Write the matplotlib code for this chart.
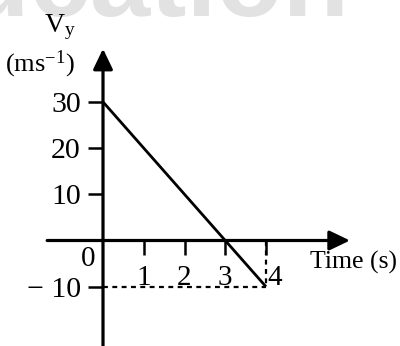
import matplotlib
matplotlib.use("Agg")
import matplotlib.pyplot as plt

plt.rcParams.update({
    "font.family": ["Liberation Serif", "DejaVu Serif"],
    "mathtext.fontset": "custom",
    "mathtext.rm": "Liberation Serif",
    "mathtext.it": "Liberation Serif:italic",
})

# velocity-time data (vertical component)
time_s = [0, 4]
vy = [30, -10]
y_ticks = [-10, 10, 20, 30]
y_tick_labels = ["\u2212 10", "10", "20", "30"]
x_ticks = [1, 2, 3, 4]
x_tick_labels = ["1", "2", "3", "4"]

W, H = 400, 346
fig = plt.figure(figsize=(W / 100, H / 100), dpi=100)
ax = fig.add_axes([0, 0, 1, 1])
ax.patch.set_visible(False)

# pixel layout: origin at (103, 240.5), 40.75 px per second, 4.62 px per m/s
ox, oy, sx, sy = 103, 240.5, 40.75, 4.62
ax.set_xlim(-ox / sx, (W - ox) / sx)
ax.set_ylim((oy - H) / sy, oy / sy)

for side in ("top", "right"):
    ax.spines[side].set_visible(False)
ax.spines["left"].set_position(("data", 0))
ax.spines["bottom"].set_position(("data", 0))
ax.spines["left"].set_visible(False)
ax.spines["bottom"].set_visible(False)

# axes with arrow heads
arrow = dict(arrowstyle="-|>,head_length=1.25,head_width=0.6", mutation_scale=10,
             lw=2.3, color="black", shrinkA=0, shrinkB=0)
ax.annotate("", xy=(6.06, 0), xytext=(-1.37, 0), arrowprops=arrow)
ax.annotate("", xy=(0, 41.5), xytext=(0, (oy - H) / sy), arrowprops=arrow)

ax.set_yticks(y_ticks)
ax.set_yticklabels(y_tick_labels)
ax.tick_params(axis="y", direction="out", length=10.5, width=1.8, pad=5.5,
               labelsize=21.5, color="black")
ax.set_xticks(x_ticks)
ax.set_xticklabels([])
ax.tick_params(axis="x", direction="out", length=10, width=1.8, color="black")

# dashed guides to (4, -10)
ax.plot([0, time_s[1]], [vy[1], vy[1]], ls=(0, (2.2, 2.0)), lw=1.6, color="black")
ax.plot([time_s[1], time_s[1]], [0, vy[1]], ls=(0, (2.2, 2.0)), lw=1.6, color="black")

# the velocity line
ax.plot(time_s, vy, color="black", lw=2.0, solid_capstyle="butt")

# x tick labels sit just above the dashed line
for t, lab in zip(x_ticks, x_tick_labels):
    dx = 0.22 if t == 4 else 0.0
    ax.text(t + dx, -8.2, lab, ha="center", va="center", fontsize=21)
ax.text(-0.37, -4.0, "0", ha="center", va="center", fontsize=21)

def px(x, y):
    return x / W, 1 - y / H

fig.text(*px(310, 262), "Time (s)", ha="left", va="center", fontsize=18.5)
fig.text(*px(44, 27), "V$_\\mathrm{y}$", ha="left", va="center", fontsize=20)
fig.text(*px(40, 64), "(ms$^{-1}$)", ha="center", va="center", fontsize=19)

# faint site watermark across the top
fig.text(*px(350, 16), "Education", ha="right", va="baseline", fontsize=78,
         fontweight="bold", family="Liberation Sans", color="#e2e2e2", zorder=0)

fig.savefig("out.png", dpi=100)
